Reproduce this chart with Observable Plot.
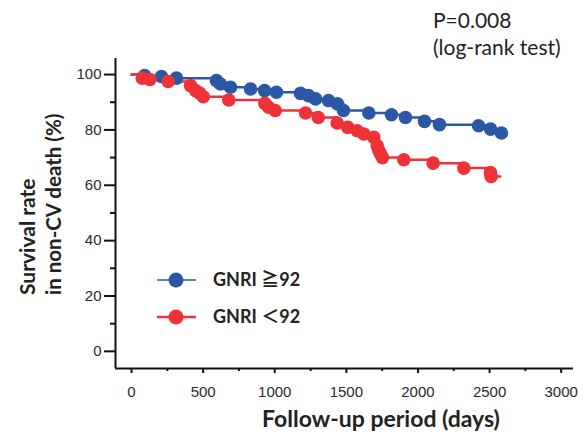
<!DOCTYPE html>
<html><head><meta charset="utf-8">
<script src="https://cdn.jsdelivr.net/npm/d3@7"></script>
<script src="https://cdn.jsdelivr.net/npm/@observablehq/plot@0.6"></script>
<style>
body{margin:0;background:#fff;}
#wrap{position:relative;width:588px;height:435px;}
#wrap svg.overlay{position:absolute;left:0;top:0;pointer-events:none;}
</style></head><body><div id="wrap"></div>
<script>
// ---- data ----
const groups = ["GNRI ≧92", "GNRI ＜92"];
const colors = ["#2b57a7", "#ee3338"];
const highDays = [91,209,314,593,621,691,831,929,1012,1180,1236,1285,1376,1438,1480,1657,1815,1913,2046,2150,2423,2507,2583];
const highSurv = [99.6,99.3,98.7,97.8,96.6,95.4,94.8,94.2,93.6,93.2,92.4,91.2,90.6,89.4,87.0,86.1,85.5,84.5,83.1,81.9,81.5,80.3,78.9];
const highEnd = 2620;
const lowDays = [75,128,256,412,447,475,501,679,931,957,1003,1215,1304,1436,1510,1576,1622,1692,1715,1727,1739,1752,1901,2106,2320,2506,2511];
const lowSurv = [98.7,98.2,97.5,96.0,94.2,93.3,92.0,90.8,89.6,88.2,87.0,86.1,84.5,82.5,80.9,79.7,78.5,77.3,74.3,72.5,71.3,70.0,69.2,68.0,66.2,64.6,63.2];
const lowEnd = 2575;
const xTicks = [0,500,1000,1500,2000,2500,3000];
const xMinor = [250,750,1250,1750,2250,2750];
const yTicks = [0,20,40,60,80,100];
const yMinor = [10,30,50,70,90];
const xTitle = "Follow-up period (days)";
const yTitle = ["Survival rate", "in non-CV death (%)"];
const pText = ["P=0.008", "(log-rank test)"];

// ---- build tables ----
const xDomain = [-112, 3086], yDomain = [-6.2, 105.8];
function curve(days, surv, end, g) {
  return [{d: 0, s: 100, g}, ...days.map((d, i) => ({d, s: surv[i], g})), {d: end, s: surv[surv.length - 1], g}];
}
function events(days, surv, g) { return days.map((d, i) => ({d, s: surv[i], g})); }
const lines = [...curve(highDays, highSurv, highEnd, groups[0]), ...curve(lowDays, lowSurv, lowEnd, groups[1])];
const dots = [...events(highDays, highSurv, groups[0]), ...events(lowDays, lowSurv, groups[1])];

const tickFont = {fontSize: 15, fontFamily: "'Liberation Sans', Arial, sans-serif", fill: "#2a2a2a"};

const chart = Plot.plot({
  width: 588, height: 435,
  marginLeft: 115, marginRight: 15, marginTop: 58, marginBottom: 67,
  x: {domain: xDomain, label: null},
  y: {domain: yDomain, label: null},
  color: {domain: groups, range: colors},
  style: {background: "#fff", overflow: "visible"},
  marks: [
    Plot.ruleX([xDomain[0]], {y1: yDomain[0], y2: yDomain[1], stroke: "#111", strokeWidth: 2}),
    Plot.ruleY([yDomain[0]], {x1: xDomain[0], x2: xDomain[1], stroke: "#111", strokeWidth: 2}),
    Plot.axisY(yTicks, {label: null, tickSize: 11, tickPadding: 3, strokeWidth: 2, stroke: "#111", ...tickFont, tickFormat: d => String(d)}),
    Plot.axisY(yMinor, {label: null, tickSize: 5, strokeWidth: 2, stroke: "#111", tickFormat: () => ""}),
    Plot.axisX(xTicks, {label: null, tickSize: 5, tickPadding: 13, strokeWidth: 2, stroke: "#111", ...tickFont, tickFormat: d => String(d)}),
    Plot.axisX(xMinor, {label: null, tickSize: 3, strokeWidth: 2, stroke: "#111", tickFormat: () => ""}),
    Plot.line(lines, {x: "d", y: "s", z: "g", stroke: "g", strokeWidth: 2.5, curve: "step-after"}),
    Plot.dot(dots, {x: "d", y: "s", fill: "g", r: 6.8})
  ]
});
const wrap = document.getElementById("wrap");
wrap.appendChild(chart);

// ---- overlay: titles, p-value, legend ----
const ns = "http://www.w3.org/2000/svg";
const ov = document.createElementNS(ns, "svg");
ov.setAttribute("class", "overlay"); ov.setAttribute("width", 588); ov.setAttribute("height", 435);
function txt(s, attrs) {
  const t = document.createElementNS(ns, "text");
  for (const k in attrs) t.setAttribute(k, attrs[k]);
  t.textContent = s; ov.appendChild(t); return t;
}
const font = "Lato, 'Open Sans', 'Noto Sans CJK JP', sans-serif";
txt(pText[0], {x: 433, y: 28, "font-family": font, "font-size": 21, fill: "#222"});
txt(pText[1], {x: 433, y: 55, "font-family": font, "font-size": 21, fill: "#222"});
txt(xTitle, {x: 381, y: 427, "text-anchor": "middle", "font-family": font, "font-weight": 700, "font-size": 23, fill: "#222"});
txt(yTitle[0], {transform: "translate(35,295) rotate(-90)", "font-family": font, "font-weight": 700, "font-size": 21, fill: "#222"});
txt(yTitle[1], {transform: "translate(61,295) rotate(-90)", "font-family": font, "font-weight": 700, "font-size": 20.5, fill: "#222"});
groups.forEach((g, i) => {
  const y = 280 + i * 37;
  const l = document.createElementNS(ns, "line");
  l.setAttribute("x1", 157); l.setAttribute("x2", 196); l.setAttribute("y1", y); l.setAttribute("y2", y);
  l.setAttribute("stroke", colors[i]); l.setAttribute("stroke-width", i === 0 ? 1.5 : 2.5);
  ov.appendChild(l);
  const c = document.createElementNS(ns, "circle");
  c.setAttribute("cx", 176); c.setAttribute("cy", y); c.setAttribute("r", 7.5); c.setAttribute("fill", colors[i]);
  ov.appendChild(c);
  txt(g, {x: 213, y: y + 6, "font-family": font, "font-weight": 700, "font-size": 18, fill: "#222"});
});
wrap.appendChild(ov);
</script></body></html>
